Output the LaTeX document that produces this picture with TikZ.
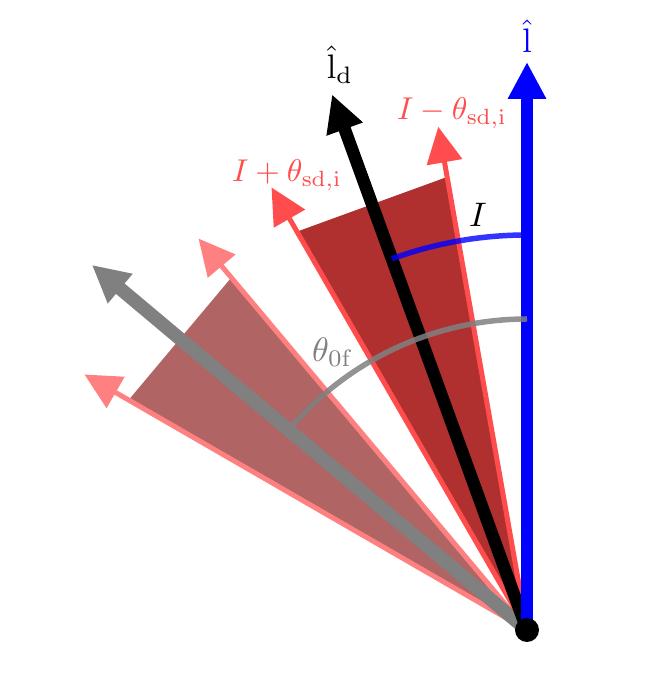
\documentclass[tikz,border=0pt]{standalone}
\usepackage{graphicx}
\usetikzlibrary{arrows.meta}
\definecolor{redarr}{HTML}{FF4D4D}
\definecolor{lightarr}{HTML}{FF8080}
\definecolor{darkwedge}{HTML}{B03030}
\definecolor{lightwedge}{HTML}{B06464}
\definecolor{grayarr}{HTML}{808080}
\newcommand{\bigtxt}[1]{\scalebox{3.4}{#1}}
\newcommand{\smalltxt}[1]{\scalebox{3.15}{#1}}
\begin{document}
\begin{tikzpicture}[x=1pt,y=1pt,
  bigarrow/.style={line width=12.5pt,-{Triangle[length=37pt,width=36pt]}},
  thinarrow/.style={line width=5pt,-{Triangle[length=36pt,width=35pt]}},
  lbl/.style={inner sep=0pt},
  arcline/.style={line width=5.5pt}]
\useasboundingbox (-527,-70) rectangle (123,630);
\coordinate (O) at (0,0);
\coordinate (tL) at (0,568);
\coordinate (tD) at (110:570);
\coordinate (tM) at (100:511);
\coordinate (tP) at (120:511);
\coordinate (tG) at (140:568);
\coordinate (tA) at (130:511);
\coordinate (tB) at (150:511);
% light wedge
\fill[lightwedge] (O) -- (130:460) -- (150:460) -- cycle;
\draw[thinarrow, lightarr] (O) -- (tA);
\draw[thinarrow, lightarr] (O) -- (tB);
\draw[bigarrow, grayarr, line width=13.5pt] (O) -- (tG);
% dark wedge
\fill[darkwedge] (O) -- (100:460) -- (120:460) -- cycle;
\draw[thinarrow, redarr] (O) -- (tM);
\draw[thinarrow, redarr] (O) -- (tP);
\draw[bigarrow, black] (O) -- (tD);
\draw[bigarrow, blue] (O) -- (tL);
% arcs
\draw[arcline, blue, opacity=0.8] (110:395) arc[start angle=110, end angle=90, radius=395];
\draw[arcline, grayarr, opacity=0.85] (140:311) arc[start angle=140, end angle=90, radius=311];
% origin dot
\fill[black] (O) circle[radius=12];
% labels
\node[lbl, text=blue] (lL) at (0,594) {\bigtxt{$\hat{\mathrm{l}}$}};
\node[lbl, text=black] (lD) at (-187,565) {\bigtxt{$\hat{\mathrm{l}}_{\mathrm{d}}$}};
\node[lbl, text=redarr] (lM) at (-75,517) {\smalltxt{$I-\theta_{\mathrm{sd,i}}$}};
\node[lbl, text=redarr] (lP) at (-240,455) {\smalltxt{$I+\theta_{\mathrm{sd,i}}$}};
\node[lbl, text=black] (lI) at (-49,415) {\bigtxt{$I$}};
\node[lbl, text=grayarr] (lT) at (-194,278) {\bigtxt{$\theta_{0\mathrm{f}}$}};
\end{tikzpicture}
\end{document}
